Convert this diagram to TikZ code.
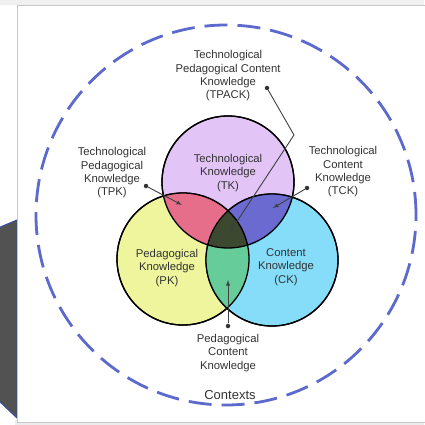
\documentclass[tikz,border=0pt]{standalone}
\usepackage{fontspec}
\setmainfont{Liberation Sans}
\usetikzlibrary{positioning}
\definecolor{lavender}{RGB}{226,196,246}
\definecolor{paleyellow}{RGB}{238,245,156}
\definecolor{skyblue}{RGB}{133,221,250}
\definecolor{rosepink}{RGB}{230,110,138}
\definecolor{slateblue}{RGB}{106,106,208}
\definecolor{seagreen}{RGB}{102,204,153}
\definecolor{darkolive}{RGB}{60,72,48}
\definecolor{dashblue}{RGB}{92,106,206}
\definecolor{slidegray}{RGB}{82,82,82}
\definecolor{slideedge}{RGB}{50,80,160}

\begin{document}
\begin{tikzpicture}[x=1pt, y=-1pt, semithick,
  venn/.style={circle, draw=black, line width=1.3pt, minimum size=132pt, inner sep=0pt},
  lbl/.style={align=center, font=\fontsize{11.3}{13.3}\selectfont, text=black!80, inner sep=0pt},
  tipdot/.style={circle, fill=black!80, minimum size=4.5pt, inner sep=0pt},
  pointer/.style={-latex, draw=black!75, line width=0.9pt}]
\useasboundingbox (0,0) rectangle (424,425);
% slide behind and panel
\fill[slidegray, draw=slideedge, line width=1pt] (-2,228) -- (17,220) -- (17,418) -- (-2,400) -- cycle;
\fill[gray!12] (0,0) rectangle (424,5);
\fill[gray!15] (15,420) rectangle (424,425);
\draw[gray!45, fill=white, line width=1pt] (17,6) rectangle (430,422);
% contexts
\node[circle, draw=dashblue, line width=2.8pt, dash pattern=on 23pt off 10pt,
  minimum size=380pt, inner sep=0pt] (CTX) at (226,215) {};
% three circles
\node[venn, fill=lavender] (TK) at (228,182) {};
\node[venn, fill=paleyellow] (PK) at (183,259) {};
\node[venn, fill=skyblue] (CK) at (272,260) {};
% overlaps
\begin{scope}
  \clip (TK.center) circle (66pt);
  \fill[rosepink] (PK.center) circle (66pt);
  \fill[slateblue] (CK.center) circle (66pt);
\end{scope}
\begin{scope}
  \clip (PK.center) circle (66pt);
  \fill[seagreen] (CK.center) circle (66pt);
  \clip (TK.center) circle (66pt);
  \fill[darkolive] (CK.center) circle (66pt);
\end{scope}
\draw[line width=1.3pt] (TK.center) circle (66pt) (PK.center) circle (66pt) (CK.center) circle (66pt);
% labels
\node[lbl] (TPACK) at (228,76) {Technological\\Pedagogical Content\\Knowledge\\(TPACK)};
\node[lbl] (TKtext) at (228,173) {Technological\\Knowledge\\(TK)};
\node[lbl] (TPK) at (112,173) {Technological\\Pedagogical\\Knowledge\\(TPK)};
\node[lbl] (TCK) at (343,172) {Technological\\Content\\Knowledge\\(TCK)};
\node[lbl] (PKtext) at (167,268) {Pedagogical\\Knowledge\\(PK)};
\node[lbl] (CKtext) at (286,267) {Content\\Knowledge\\(CK)};
\node[lbl] (PCK) at (228,353) {Pedagogical\\Content\\Knowledge};
\node[lbl, font=\fontsize{13}{15}\selectfont] (Contexts) at (230,395) {Contexts};
% pointers
\node[tipdot] (TPACKdot) at (267,88) {};
\node[tipdot] (TPKdot) at (146,186) {};
\node[tipdot] (TCKdot) at (307,188) {};
\node[tipdot] (PCKdot) at (228,326) {};
\coordinate (TPACKbend) at (294,135);
\coordinate (TPACKtip) at (230,232);
\coordinate (TPKtip) at (182,205);
\coordinate (TCKtip) at (273,208);
\coordinate (PCKtip) at (228,280);
\draw[pointer] (TPACKdot) -- (TPACKbend) -- (TPACKtip);
\draw[pointer] (TPKdot) -- (TPKtip);
\draw[pointer] (TCKdot) -- (TCKtip);
\draw[pointer] (PCKdot) -- (PCKtip);
\end{tikzpicture}
\end{document}
